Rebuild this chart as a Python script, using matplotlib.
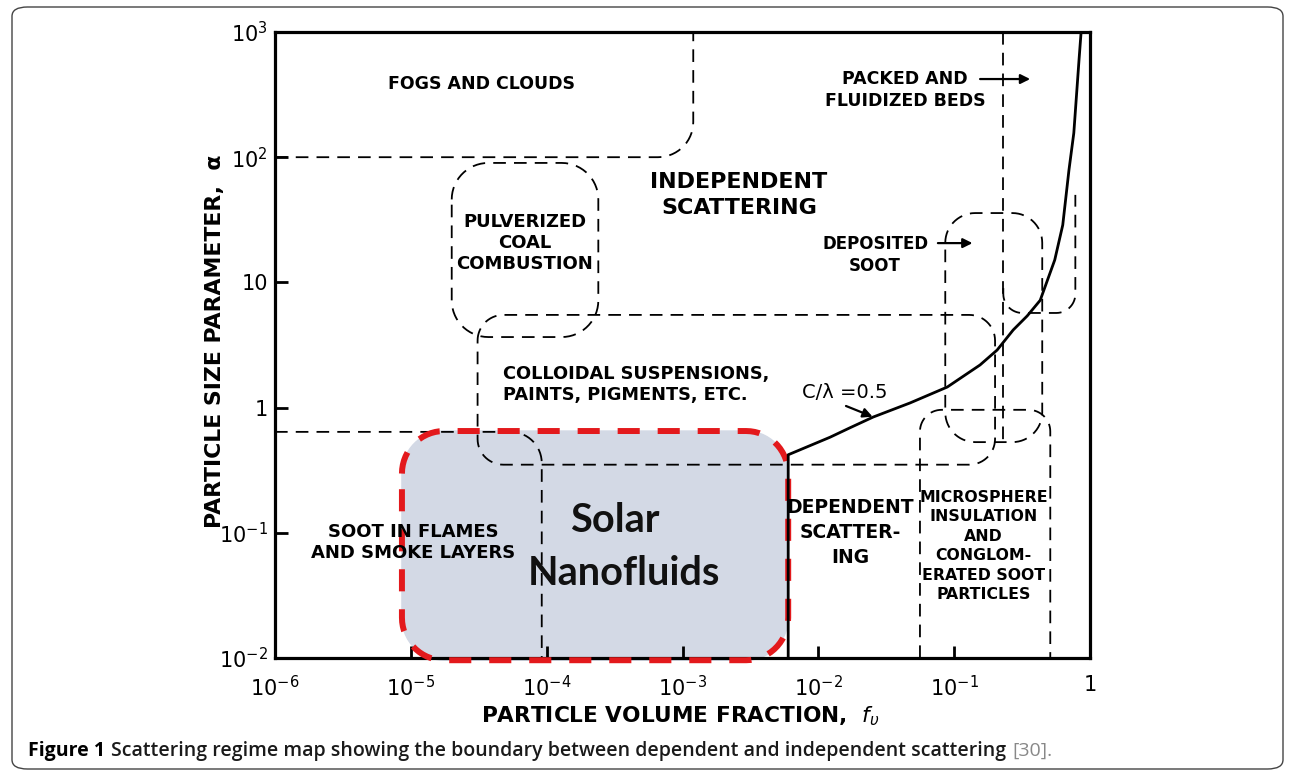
import numpy as np
import matplotlib
matplotlib.use("Agg")
import matplotlib.pyplot as plt
from matplotlib.patches import FancyBboxPatch
from matplotlib.ticker import NullLocator

# axis ticks
xtick_vals = [1e-6, 1e-5, 1e-4, 1e-3, 1e-2, 1e-1, 1]
xtick_labels = [r"$10^{-6}$", r"$10^{-5}$", r"$10^{-4}$", r"$10^{-3}$", r"$10^{-2}$", r"$10^{-1}$", "1"]
ytick_vals = [1e-2, 1e-1, 1, 10, 1e2, 1e3]
ytick_labels = [r"$10^{-2}$", r"$10^{-1}$", "1", "10", r"$10^{2}$", r"$10^{3}$"]

# regime boundaries (f_v, alpha), dashed
fogs_edge = [(1e-6, 100), (1.2e-3, 100), (1.2e-3, 1000)]
coal_box = [(2e-5, 90), (2.4e-4, 90), (2.4e-4, 3.66), (2e-5, 3.66)]
colloid_box = [(3.1e-5, 5.5), (0.2, 5.5), (0.2, 0.35), (3.1e-5, 0.35)]
soot_edge = [(1e-6, 0.64), (9.2e-5, 0.64), (9.2e-5, 0.01)]
deposited_box = [(0.086, 35.8), (0.445, 35.8), (0.445, 0.53), (0.086, 0.53)]
packed_line = [(0.23, 1000), (0.23, 0.5)]
packed_edge = [(0.23, 9), (0.23, 5.7), (0.78, 5.7), (0.78, 50)]
micro_edge = [(0.056, 0.01), (0.056, 0.96), (0.51, 0.96), (0.51, 0.01)]
solar_box = [(8.6e-6, 0.65), (6.0e-3, 0.65), (6.0e-3, 0.0096), (8.6e-6, 0.0096)]

# dependent / independent boundary c/lambda = 0.5
boundary_fv = [6.0e-3, 6.0e-3, 0.0122, 0.0171, 0.0253, 0.0474, 0.089, 0.155, 0.207, 0.272,
               0.345, 0.43, 0.55, 0.63, 0.70, 0.76, 0.83, 0.86]
boundary_a = [0.01, 0.42, 0.58, 0.69, 0.84, 1.09, 1.46, 2.19, 2.88, 4.17,
              5.4, 7.2, 15.1, 28.7, 79, 156, 597, 1000]


def rounded(verts, rx, ry, closed=False):
    # axis-aligned polyline in log space with quarter-circle corners
    pts = np.log10(np.array(verts, float))
    rr = np.array([rx, ry])
    t = np.linspace(0, np.pi / 2, 16)
    out = []
    n = len(pts)
    for i in range(n):
        p = pts[i]
        if not closed and (i == 0 or i == n - 1):
            out.append(p)
            continue
        d1 = np.sign(p - pts[i - 1])
        d2 = np.sign(pts[(i + 1) % n] - p)
        c = p - d1 * rr + d2 * rr
        out.extend(c - np.outer(np.cos(t), d2 * rr) + np.outer(np.sin(t), d1 * rr))
    if closed:
        out.append(out[0])
    out = np.array(out)
    return 10 ** out[:, 0], 10 ** out[:, 1]


fig = plt.figure(figsize=(12.9, 7.73), dpi=100)
ax = fig.add_axes([275 / 1290, 115 / 773, 815 / 1290, 626 / 773])
ax.set_xscale("log")
ax.set_yscale("log")
ax.set_xlim(1e-6, 1)
ax.set_ylim(1e-2, 1e3)

dash = dict(color="black", lw=1.3, linestyle=(0, (7, 4.5)), zorder=2)

# solar nanofluids region
sx, sy = rounded(solar_box, 0.31, 0.34, closed=True)
ax.fill(sx, sy, color="#d3d9e5", zorder=1, clip_on=False)
ax.plot(sx, sy, color="#e3191c", lw=4.3, linestyle=(0, (3.7, 3.0)), zorder=3, clip_on=False)

for verts, r, closed in [
    (fogs_edge, 0.26, False),
    (coal_box, 0.27, True),
    (colloid_box, 0.19, True),
    (soot_edge, 0.23, False),
    (deposited_box, 0.22, True),
    (packed_edge, 0.14, False),
    (micro_edge, 0.16, False),
]:
    px, py = rounded(verts, r, r * 1.08, closed=closed)
    ax.plot(px, py, **dash)
ax.plot(*zip(*packed_line), **dash)

ax.plot(boundary_fv, boundary_a, color="black", lw=2.0, zorder=3)

lab = dict(family="DejaVu Sans", fontweight="bold", ha="center", va="center", zorder=4)
ax.text(3.3e-5, 385, "FOGS AND CLOUDS", fontsize=12.5, **lab)
ax.text(6.9e-5, 20.6, "PULVERIZED\nCOAL\nCOMBUSTION", fontsize=13, linespacing=1.24, **lab)
ax.text(2.6e-3, 50, "INDEPENDENT\nSCATTERING", fontsize=16, linespacing=1.41, **lab)
ax.text(0.0436, 344, "PACKED AND\nFLUIDIZED BEDS", fontsize=12.5, linespacing=1.26, **lab)
ax.text(0.0262, 16.5, "DEPOSITED\nSOOT", fontsize=12, linespacing=1.25, **lab)
ax.text(4.8e-5, 1.52, "COLLOIDAL SUSPENSIONS,\nPAINTS, PIGMENTS, ETC.", fontsize=12.8,
        linespacing=1.23, family="DejaVu Sans", fontweight="bold", ha="left", va="center", zorder=4)
ax.text(1.04e-5, 0.083, "SOOT IN FLAMES\nAND SMOKE LAYERS", fontsize=13, linespacing=1.21, **lab)
ax.text(0.0171, 0.10, "DEPENDENT\nSCATTER-\nING", fontsize=13.5, linespacing=1.39, **lab)
ax.text(0.164, 0.0785, "MICROSPHERE\nINSULATION\nAND\nCONGLOM-\nERATED SOOT\nPARTICLES",
        fontsize=11.3, linespacing=1.37, **lab)
ax.text(0.0157, 1.31, "C/λ =0.5", fontsize=14, ha="center", va="center", zorder=4)
solar = dict(fontsize=28.5, family="Lato", fontweight="bold", ha="center", va="center",
             color="#111111", zorder=4)
ax.text(3.19e-4, 0.126, "Solar", **solar)
ax.text(3.72e-4, 0.0477, "Nanofluids", **solar)

arrow = dict(arrowstyle="-|>", lw=1.6, color="black", mutation_scale=14)
ax.annotate("", xy=(0.0262, 0.83), xytext=(0.0153, 1.05), arrowprops=arrow, zorder=4)
ax.annotate("", xy=(0.38, 421), xytext=(0.148, 421), arrowprops=arrow, zorder=4)
ax.annotate("", xy=(0.143, 20.6), xytext=(0.0724, 20.6), arrowprops=arrow, zorder=4)

ax.set_xticks(xtick_vals)
ax.set_xticklabels(xtick_labels)
ax.set_yticks(ytick_vals)
ax.set_yticklabels(ytick_labels)
ax.xaxis.set_minor_locator(NullLocator())
ax.yaxis.set_minor_locator(NullLocator())
ax.tick_params(direction="in", length=9, width=2, labelsize=15)
ax.tick_params(axis="x", pad=12)
ax.tick_params(axis="y", pad=5)
for s in ax.spines.values():
    s.set_linewidth(2.3)

ax.text(-0.074, 0.506, "PARTICLE SIZE PARAMETER,  α", transform=ax.transAxes, rotation=90,
        fontsize=15.8, fontweight="bold", ha="center", va="center")
ax.text(0.497, -0.093, r"PARTICLE VOLUME FRACTION,  $f_{\upsilon}$", transform=ax.transAxes,
        fontsize=15.6, fontweight="bold", ha="center", va="center")

# caption and outer frame
fig.patches.append(FancyBboxPatch((12 / 1290, 4 / 773), 1271 / 1290, 762 / 773,
                                  boxstyle="round,pad=0,rounding_size=0.012",
                                  transform=fig.transFigure, fill=False, ec="#444444", lw=1.0))
renderer = fig.canvas.get_renderer()
cy = 1 - 751 / 773
t1 = fig.text(28 / 1290, cy, "Figure 1", family="Open Sans", fontweight="bold", fontsize=14, va="center")
x1 = t1.get_window_extent(renderer).x1 / 1290 + 6 / 1290
t2 = fig.text(x1, cy, "Scattering regime map showing the boundary between dependent and independent scattering",
              family="Open Sans", fontweight="semibold", fontsize=14, va="center", color="#1a1a1a")
x2 = t2.get_window_extent(renderer).x1 / 1290 + 6 / 1290
t3 = fig.text(x2, cy, "[30].", family="Open Sans", fontsize=14, va="center", color="#888888")

fig.savefig("out.png", dpi=100)
